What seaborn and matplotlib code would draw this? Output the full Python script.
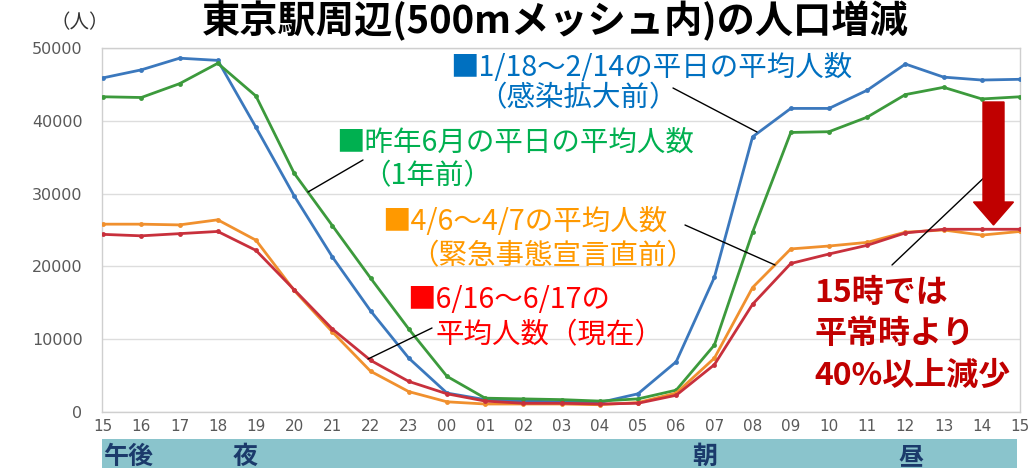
import matplotlib
matplotlib.use("Agg")
import matplotlib.pyplot as plt
import seaborn as sns
import pandas as pd
import numpy as np
from matplotlib.patches import Rectangle, FancyArrow
from matplotlib.lines import Line2D

# ---------------- data ----------------
hours = ["15", "16", "17", "18", "19", "20", "21", "22", "23", "00", "01", "02", "03",
         "04", "05", "06", "07", "08", "09", "10", "11", "12", "13", "14", "15"]
before_covid = [45900, 47000, 48600, 48300, 39100, 29700, 21300, 13900, 7400, 2600, 1700, 1500,
                1400, 1300, 2500, 6900, 18500, 37800, 41700, 41700, 44200, 47800, 46000, 45600, 45700]
last_year = [43300, 43200, 45100, 47900, 43400, 32800, 25600, 18400, 11400, 4900, 1900, 1800,
             1700, 1500, 1800, 3000, 9200, 24700, 38400, 38500, 40500, 43600, 44600, 43000, 43300]
before_emergency = [25800, 25800, 25700, 26400, 23600, 16700, 11000, 5600, 2800, 1400, 1100, 1100,
                    1100, 1000, 1300, 2600, 7400, 17100, 22400, 22800, 23300, 24700, 25000, 24300, 24800]
current = [24400, 24200, 24500, 24800, 22200, 16800, 11400, 7100, 4200, 2500, 1500, 1200,
           1200, 1100, 1200, 2300, 6500, 14800, 20400, 21700, 22900, 24600, 25100, 25100, 25100]
series_names = ["1/18～2/14の平日の平均人数", "昨年6月の平日の平均人数",
                "4/6～4/7の平均人数", "6/16～6/17の平均人数"]
y_ticks = [0, 10000, 20000, 30000, 40000, 50000]
band_labels = [("午後", 0), ("夜", 3.4), ("朝", 15.4), ("昼", 20.8)]

line_colors = ["#3B78BD", "#3C9A3C", "#F0902E", "#C8303C"]

rows = []
for name, vals in zip(series_names, [before_covid, last_year, before_emergency, current]):
    for i, v in enumerate(vals):
        rows.append({"pos": i, "people": v, "series": name})
df = pd.DataFrame(rows)

# ---------------- figure ----------------
sns.set_theme(style="white")
plt.rcParams['font.family'] = ['Noto Sans CJK JP', 'DejaVu Sans']

W, H = 1031, 468
fig = plt.figure(figsize=(W / 100, H / 100), dpi=100)
fig.patch.set_facecolor("white")


def fx(px):
    return px / W


def fy(py):
    return 1 - py / H


ax = fig.add_axes([fx(102), fy(412), fx(1020) - fx(102), fy(48) - fy(412)])

sns.lineplot(data=df, x="pos", y="people", hue="series", palette=line_colors,
             marker="o", markersize=3.5, markeredgewidth=0, linewidth=2.0,
             legend=False, ax=ax, zorder=3)

ax.set_xlim(-0.03, 24.0)
ax.set_ylim(0, 50000)
ax.set_xticks(range(len(hours)))
ax.set_xticklabels(hours, family="DejaVu Sans", fontsize=11, color="#595959")
ax.set_yticks(y_ticks)
ax.set_yticklabels([str(v) for v in y_ticks], family="DejaVu Sans", fontsize=11.5, color="#595959")
ax.tick_params(axis="x", length=0, pad=5)
ax.tick_params(axis="y", length=0, pad=14)
ax.set_xlabel("")
ax.set_ylabel("")
ax.grid(axis="y", color="#DDDDDD", linewidth=1.0)
ax.set_axisbelow(True)
for s in ax.spines.values():
    s.set_color("#CFCFCF")
    s.set_linewidth(1.0)

# ---------------- title & unit ----------------
fig.text(fx(555), fy(1), "東京駅周辺(500mメッシュ内)の人口増減", ha="center", va="top",
         fontsize=27.5, fontweight="bold", color="black")
fig.text(fx(80), fy(23), "（人）", ha="center", va="center", fontsize=14, color="#333333")

# ---------------- series annotations ----------------
fs = 20.5
def label(px, py, s, color, ha="left"):
    fig.text(fx(px), fy(py), s, ha=ha, va="center", fontsize=fs, color=color)


label(450, 68, "■1/18～2/14の平日の平均人数", "#0070C0")
label(478, 98, "（感染拡大前）", "#0070C0")
label(336, 143, "■昨年6月の平日の平均人数", "#00B050")
label(362, 176, "（1年前）", "#00B050")
label(382, 222, "■4/6～4/7の平均人数", "#FF9900")
label(410, 256, "（緊急事態宣言直前）", "#FF9900")
label(407, 300, "■6/16～6/17の", "#FF0000")
label(436, 335, "平均人数（現在）", "#FF0000")

# leader lines
leaders = [((673, 88), (757, 132)),
           ((363, 160), (308, 192)),
           ((685, 225), (775, 265)),
           ((432, 328), (368, 359)),
           ((892, 265), (990, 172))]
for (x1, y1), (x2, y2) in leaders:
    fig.add_artist(Line2D([fx(x1), fx(x2)], [fy(y1), fy(y2)], color="black", linewidth=1.0,
                          transform=fig.transFigure, zorder=5))

# ---------------- emphasis ----------------
for txt, py in [("15時では", 293), ("平常時より", 334), ("40%以上減少", 376)]:
    fig.text(fx(814), fy(py), txt, ha="left", va="center", fontsize=23,
             fontweight="bold", color="#C00000")

arrow = FancyArrow(fx(993.5), fy(102), 0, fy(225) - fy(102), width=fx(21) - fx(0),
                   head_width=fx(40) - fx(0), head_length=fy(202) - fy(225),
                   length_includes_head=True, color="#C00000", transform=fig.transFigure,
                   zorder=6)
fig.add_artist(arrow)

# ---------------- time band ----------------
fig.add_artist(Rectangle((fx(102), 0), fx(1017) - fx(102), fy(439), transform=fig.transFigure,
                         facecolor="#8AC4CC", edgecolor="none", zorder=1))
for txt, pos in band_labels:
    xp = 103 + pos * 38.25
    fig.text(fx(xp), fy(445), txt, ha="left", va="top", fontsize=18, fontweight="bold",
             color="#1B3A6B", zorder=2)

fig.savefig("out.png", dpi=100)
